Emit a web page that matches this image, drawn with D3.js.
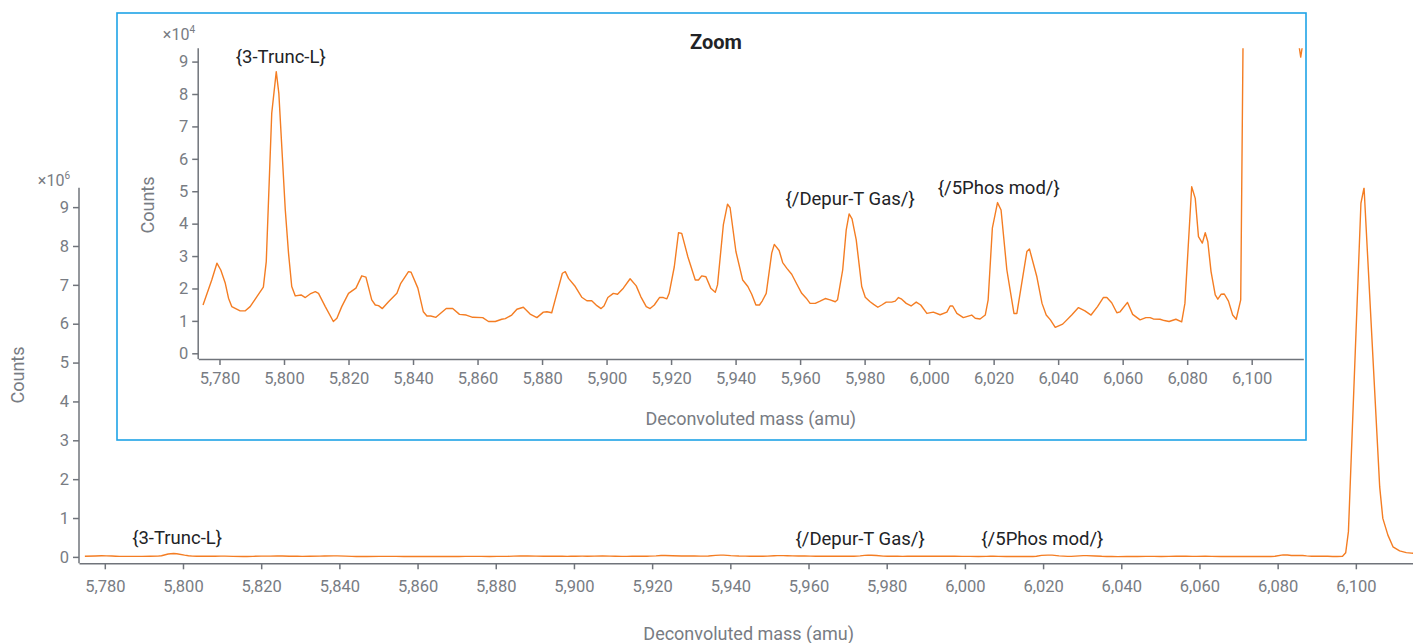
<!DOCTYPE html>
<html>
<head>
<meta charset="utf-8">
<script src="https://cdn.jsdelivr.net/npm/d3@7"></script>
<style>
  body { margin: 0; background: #fff; }
  svg { display: block; font-family: Roboto, "Noto Sans", sans-serif; }
</style>
</head>
<body>
<svg id="chart" width="1413" height="643"></svg>
<script>
// Deconvoluted mass spectrum: mass (amu) and intensity (counts)
const massAmu = [
  5774.9, 5777.6, 5779.2, 5780.4, 5781.8, 5782.8, 5783.8, 5786.4, 5788.0, 5789.5,
  5791.6, 5793.6, 5794.5, 5796.2, 5797.6, 5798.4, 5800.4, 5801.4, 5802.4, 5803.5,
  5805.3, 5806.6, 5808.1, 5809.7, 5810.7, 5812.8, 5815.3, 5816.4, 5817.9, 5820.0,
  5822.3, 5824.1, 5825.4, 5827.2, 5828.3, 5829.3, 5830.5, 5832.4, 5835.0, 5836.2,
  5838.6, 5839.4, 5841.5, 5843.2, 5844.3, 5845.5, 5847.1, 5850.3, 5852.3, 5854.4,
  5856.5, 5858.5, 5861.6, 5863.4, 5865.5, 5867.5, 5868.6, 5870.6, 5872.2, 5874.2,
  5876.3, 5878.4, 5880.4, 5881.5, 5883.0, 5884.6, 5886.3, 5887.2, 5888.2, 5890.3,
  5892.3, 5893.9, 5895.4, 5897.0, 5898.3, 5899.2, 5900.4, 5902.1, 5903.4, 5905.2,
  5907.3, 5909.2, 5910.6, 5912.3, 5913.5, 5914.8, 5916.4, 5917.6, 5918.7, 5919.4,
  5921.0, 5922.3, 5923.3, 5925.2, 5927.5, 5928.5, 5929.5, 5930.8, 5932.3, 5933.7,
  5934.4, 5936.2, 5937.5, 5938.3, 5940.1, 5942.2, 5943.8, 5945.0, 5946.3, 5947.4,
  5948.3, 5949.5, 5951.2, 5952.0, 5953.5, 5954.6, 5955.9, 5957.4, 5959.0, 5960.5,
  5961.9, 5963.1, 5964.7, 5966.2, 5967.8, 5969.3, 5970.9, 5971.6, 5973.2, 5974.3,
  5975.2, 5976.1, 5977.4, 5979.1, 5980.2, 5981.7, 5982.8, 5984.1, 5985.3, 5986.7,
  5988.4, 5989.5, 5990.5, 5991.5, 5992.9, 5994.4, 5996.0, 5997.4, 5999.3, 6001.3,
  6003.4, 6005.5, 6006.5, 6007.3, 6008.6, 6010.6, 6013.2, 6014.3, 6015.8, 6017.4,
  6018.3, 6019.6, 6021.2, 6022.3, 6024.1, 6026.3, 6027.2, 6030.3, 6031.1, 6033.4,
  6035.0, 6036.3, 6037.6, 6039.1, 6041.4, 6044.2, 6046.3, 6048.3, 6050.2, 6052.2,
  6054.0, 6055.1, 6056.6, 6058.2, 6059.2, 6061.5, 6063.1, 6065.4, 6067.2, 6068.5,
  6069.5, 6071.6, 6072.9, 6074.4, 6076.5, 6078.3, 6079.3, 6081.4, 6082.5, 6083.5,
  6084.7, 6085.6, 6086.4, 6087.4, 6088.7, 6089.5, 6090.5, 6091.5, 6092.8, 6094.1,
  6095.2, 6096.6, 6097.4, 6098.1, 6101.3, 6102.1, 6106.1, 6106.9, 6108.2, 6109.5,
  6111.2, 6112.9, 6114.2, 6115.2, 6116.2
];
const counts = [
  14900, 22600, 27800, 25700, 21600, 17000, 14400, 13100, 13100, 14400,
  17500, 20400, 28300, 74100, 86900, 80200, 44200, 30900, 20600, 17700,
  18000, 17200, 18300, 19000, 18500, 14400, 9800, 10800, 14400, 18500,
  20100, 23900, 23500, 16500, 14900, 14700, 13800, 15900, 18500, 21600,
  25200, 25000, 20100, 12800, 11500, 11500, 11100, 13800, 13800, 12000,
  11800, 11100, 11000, 9800, 9800, 10500, 10700, 11800, 13600, 14200,
  12100, 11000, 12700, 12800, 12500, 18500, 24700, 25200, 23100, 20600,
  17300, 16200, 16200, 14700, 13800, 14600, 17200, 18500, 18200, 20100,
  23000, 20800, 17500, 14400, 13800, 14900, 17200, 17200, 16800, 18500,
  26700, 37200, 37000, 29800, 22600, 22600, 23900, 23600, 20100, 18800,
  21100, 39600, 46000, 44900, 31400, 22600, 20600, 18200, 14900, 14900,
  16200, 18500, 30900, 33600, 31700, 28000, 26200, 24400, 21300, 18500,
  17000, 15400, 15400, 16100, 16900, 16500, 15900, 16500, 25700, 38100,
  43000, 41500, 35000, 20600, 17300, 15900, 15100, 14200, 14900, 15800,
  15800, 16100, 17200, 16700, 15400, 14600, 15800, 14900, 12300, 12700,
  11900, 12700, 14600, 14600, 12300, 11000, 11800, 10800, 10600, 11800,
  16500, 38600, 46500, 44200, 25700, 12300, 12300, 31400, 32200, 23600,
  15400, 11800, 10300, 8000, 9000, 11800, 14100, 13100, 11800, 14400,
  17200, 17200, 15600, 12500, 12800, 15700, 12000, 10300, 11000, 11000,
  10600, 10500, 10100, 9800, 10500, 9700, 15400, 51400, 47800, 36000,
  34000, 37200, 34400, 25200, 18000, 16700, 18200, 18300, 16100, 11800,
  10500, 16500, 105000, 650000, 9100000, 9500000, 1800000, 990000, 560000, 260000,
  155000, 110000, 98000, 91400, 98000
];

// Annotated species: label text, mass and intensity at the labelled peak
const peakLabels = ["{3-Trunc-L}", "{/Depur-T Gas/}", "{/5Phos mod/}"];
const peakLabelMass = [5799.0, 5975.5, 6021.6];
const peakLabelCounts = [86900, 43000, 46500];

// Axis ticks
const massTicks = [5780, 5800, 5820, 5840, 5860, 5880, 5900, 5920, 5940, 5960,
                   5980, 6000, 6020, 6040, 6060, 6080, 6100];
const overviewCountTicks = [0, 1e6, 2e6, 3e6, 4e6, 5e6, 6e6, 7e6, 8e6, 9e6];
const zoomCountTicks = [0, 1e4, 2e4, 3e4, 4e4, 5e4, 6e4, 7e4, 8e4, 9e4];

const spectrum = massAmu.map((m, i) => ({ mass: m, value: counts[i] }));

const AXIS = "#70747b";
const TEXT = "#787c83";
const LINE = "#f47d23";
const INK = "#222326";

const svg = d3.select("#chart");

function drawPanel(g, o) {
  const x = d3.scaleLinear().domain(o.xDomain).range(o.xRange);
  const y = d3.scaleLinear().domain(o.yDomain).range(o.yRange);
  const clipId = "clip-" + o.id;

  g.append("clipPath").attr("id", clipId).append("rect")
    .attr("x", o.xRange[0]).attr("y", o.yRange[1])
    .attr("width", o.xRange[1] - o.xRange[0])
    .attr("height", o.yRange[0] - o.yRange[1]);

  // x axis
  const xAxis = g.append("g")
    .attr("transform", `translate(0,${o.yRange[0]})`)
    .call(d3.axisBottom(x).tickValues(massTicks).tickFormat(d3.format(","))
      .tickSize(6).tickSizeOuter(0).tickPadding(o.xTickPad));
  // y axis
  const yAxis = g.append("g")
    .attr("transform", `translate(${o.xRange[0]},0)`)
    .call(d3.axisLeft(y).tickValues(o.yTicks).tickFormat(d => d / o.yUnit)
      .tickSize(6).tickSizeOuter(0).tickPadding(4));

  [xAxis, yAxis].forEach(a => {
    a.select(".domain").attr("stroke", AXIS).attr("stroke-width", 1.5);
    a.selectAll(".tick line").attr("stroke", AXIS).attr("stroke-width", 1.5);
    a.selectAll(".tick text").attr("fill", TEXT)
      .style("font-size", o.tickFont + "px").style("font-family", "Roboto");
  });
  // y axis extends down to meet the x axis
  yAxis.select(".domain").attr("d", `M0,${o.yRange[1]}V${o.yRange[0]}`);

  // spectrum trace
  g.append("path")
    .datum(spectrum)
    .attr("clip-path", `url(#${clipId})`)
    .attr("fill", "none")
    .attr("stroke", LINE)
    .attr("stroke-width", 1.4)
    .attr("stroke-linejoin", "round")
    .attr("d", d3.line().x(d => x(d.mass)).y(d => y(d.value)));

  // peak annotations
  peakLabels.forEach((t, i) => {
    g.append("text")
      .attr("x", x(peakLabelMass[i]) + (o.labelNudge ? o.labelNudge[i] : 0))
      .attr("y", y(peakLabelCounts[i]) - o.labelLift)
      .attr("text-anchor", "middle")
      .attr("fill", INK)
      .style("font-size", o.labelFont + "px")
      .text(t);
  });

  // axis titles
  g.append("text")
    .attr("x", (o.xRange[0] + o.xRange[1]) / 2)
    .attr("y", o.xTitleY)
    .attr("text-anchor", "middle")
    .attr("fill", TEXT)
    .style("font-size", o.titleFont + "px")
    .text("Deconvoluted mass (amu)");

  g.append("text")
    .attr("transform", `translate(${o.yTitleX},${o.yTitleY}) rotate(-90)`)
    .attr("text-anchor", "middle")
    .attr("dy", "0.35em")
    .attr("fill", TEXT)
    .style("font-size", o.titleFont + "px")
    .text("Counts");

  // scale multiplier
  const mult = g.append("text")
    .attr("x", o.multX).attr("y", o.multY)
    .attr("text-anchor", "end")
    .attr("fill", TEXT)
    .style("font-size", "16px");
  mult.append("tspan").text("×10");
  mult.append("tspan").attr("dy", -7).style("font-size", "10px").text(o.multExp);
}

// Overview panel
const overview = svg.append("g");
drawPanel(overview, {
  id: "overview",
  xDomain: [5773.4, 6116], xRange: [79, 1418.4],
  yDomain: [-165000, 9500000], yRange: [563.3, 187.7],
  yTicks: overviewCountTicks, yUnit: 1e6,
  xTickPad: 11, tickFont: 16.5, labelFont: 18.5, titleFont: 18,
  labelLift: 10, labelNudge: [-2, -9, -7],
  xTitleY: 640, yTitleX: 18, yTitleY: 375,
  multX: 70, multY: 186, multExp: "6"
});

// Zoomed inset over the low-intensity region
const inset = svg.append("g");
inset.append("rect")
  .attr("x", 117).attr("y", 13).attr("width", 1189).attr("height", 427)
  .attr("fill", "#fff").attr("stroke", "#1fa3e6").attr("stroke-width", 1.6);
drawPanel(inset, {
  id: "zoom",
  xDomain: [5773.4, 6116], xRange: [198.2, 1303.3],
  yDomain: [-1760, 94100], yRange: [359, 48.3],
  yTicks: zoomCountTicks, yUnit: 1e4,
  xTickPad: 7, tickFont: 16.5, labelFont: 18.5, titleFont: 18,
  labelLift: 9,
  xTitleY: 425, yTitleX: 148, yTitleY: 205,
  multX: 195, multY: 40, multExp: "4"
});
inset.append("text")
  .attr("x", 716).attr("y", 49)
  .attr("text-anchor", "middle")
  .attr("fill", INK)
  .style("font-size", "20px").style("font-weight", 700)
  .text("Zoom");
</script>
</body>
</html>
